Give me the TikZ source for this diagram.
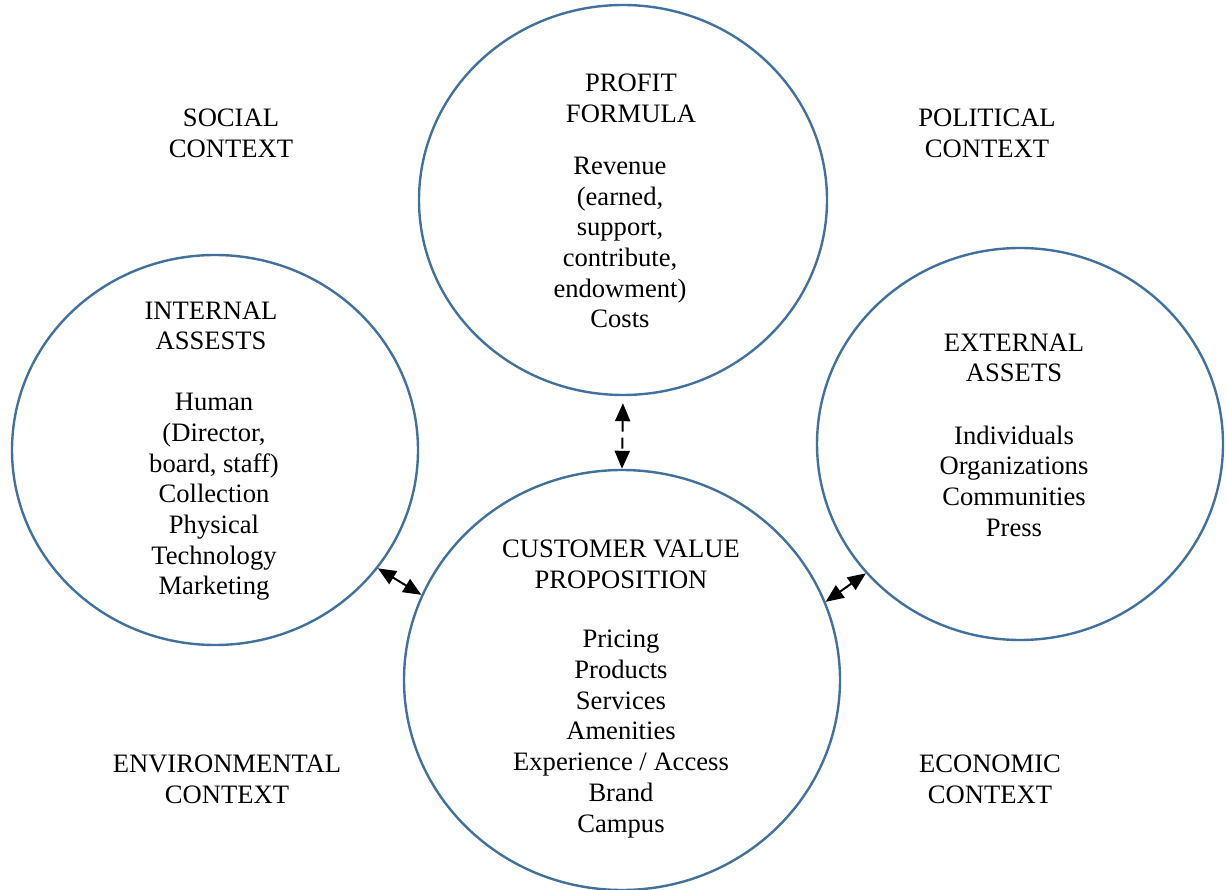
\documentclass[tikz,border=0pt]{standalone}
\usepackage{fontspec}
\setmainfont{Liberation Serif}
\usetikzlibrary{shapes.geometric,arrows.meta}
\definecolor{ringblue}{HTML}{41719C}
\begin{document}
\begin{tikzpicture}[x=1pt,y=-1pt,
  ring/.style={ellipse,draw=ringblue,line width=2.4pt,inner sep=0pt},
  txt/.style={align=center,font=\fontsize{26.6pt}{30.7pt}\selectfont,inner sep=0pt},
  tip/.tip={Triangle[length=18pt,width=15pt]},
  link/.style={line width=2pt,tip-tip}]
\useasboundingbox (0,0) rectangle (1227,890);
% rings
\node[ring,minimum width=408pt,minimum height=390pt] (profit) at (623,200) {};
\node[ring,minimum width=406pt,minimum height=390pt] (internal) at (215,450) {};
\node[ring,minimum width=406pt,minimum height=392pt] (external) at (1020,444) {};
\node[ring,minimum width=436pt,minimum height=420pt] (customer) at (622,680) {};
% context labels
\node[txt] (social) at (231,133.5) {SOCIAL\\CONTEXT};
\node[txt] (political) at (987,133.5) {POLITICAL\\CONTEXT};
\node[txt] (environmental) at (227,779) {ENVIRONMENTAL\\CONTEXT};
\node[txt] (economic) at (990,779) {ECONOMIC\\CONTEXT};
% profit formula
\node[txt] (profith) at (631,98.5) {PROFIT\\FORMULA};
\node[txt] (profitb) at (620,242.5) {Revenue\\(earned,\\support,\\contribute,\\endowment)\\Costs};
% internal
\node[txt] (internalh) at (211,326) {INTERNAL\\ASSESTS};
\node[txt] (internalb) at (214,497) {Human\\(Director,\\board, staff)\\Collection\\Physical\\Technology\\Marketing};
% external
\node[txt] (externalh) at (1014,358) {EXTERNAL\\ASSETS};
\node[txt] (externalb) at (1014,481) {Individuals\\Organizations\\Communities\\Press};
% customer
\node[txt] (customerh) at (621,564) {CUSTOMER VALUE\\PROPOSITION};
\node[txt] (customerb) at (621,734) {Pricing\\Products\\Services\\Amenities\\Experience / Access\\Brand\\Campus};
% connectors
\draw[link] (internal.-36.8) -- (customer.157.6);
\draw[link] (customer.21.7) -- (external.220.4);
\draw[link,dash pattern=on 11pt off 6pt,shorten <=7pt] (profit.south) -- (customer.north);
\end{tikzpicture}
\end{document}
